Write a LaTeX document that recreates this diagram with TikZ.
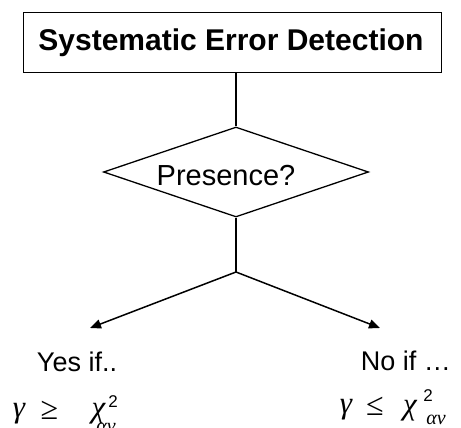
\documentclass[tikz,border=0pt]{standalone}
\usepackage{fontspec}
\setmainfont{Liberation Sans}
\newfontfamily\grkfont{Liberation Serif}
\usetikzlibrary{shapes.geometric,arrows.meta}
\tikzset{
  titlebox/.style={draw, line width=1pt, minimum width=418pt, minimum height=60pt, inner sep=0pt},
  decision/.style={draw, diamond, line width=1.3pt, minimum width=265pt, minimum height=90pt, inner sep=0pt},
  lbl/.style={inner sep=0pt, font=\fontsize{27}{30}\selectfont},
  mth/.style={inner sep=0pt, font=\fontsize{31}{33}\selectfont\grkfont\itshape},
  rel/.style={inner sep=0pt, font=\fontsize{32}{34}\selectfont\grkfont},
  sup/.style={inner sep=0pt, font=\fontsize{17}{18}\selectfont},
  idx/.style={inner sep=0pt, font=\fontsize{20}{21}\selectfont\grkfont\itshape},
  link/.style={line width=1.5pt},
  arrowlink/.style={line width=1.5pt, -{Triangle[length=11pt,width=9pt]}}
}
\begin{document}
\begin{tikzpicture}[x=1pt,y=-1pt]
\useasboundingbox (0,0) rectangle (461,428);

% title box
\node[titlebox] (title) at (232,43) {};
\node[inner sep=0pt, font=\fontsize{30}{32}\selectfont\bfseries] (titletext) at (231,42.5) {Systematic Error Detection};

% decision diamond
\node[decision] (dia) at (236,172) {};
\node[inner sep=0pt, font=\fontsize{29}{32}\selectfont] (diatext) at (226,176) {Presence?};

% connectors
\draw[link] (dia.north) -- (dia.north |- title.south);
\coordinate (split) at (236,272);
\coordinate (yestip) at (90,328);
\coordinate (notip) at (380,328);
\draw[link] (dia.south) -- (split);
\draw[arrowlink] (split) -- (yestip);
\draw[arrowlink] (split) -- (notip);

% outcome labels
\node[lbl] (yes) at (77,362) {Yes if..};
\node[lbl] (no) at (406,360.5) {No if \dots};

% left condition
\node[mth] (lg) at (19,413.5) {γ};
\node[rel] (lge) at (49.5,410.5) {≥};
\node[mth] (lchi) at (98.5,414) {χ};
\node[sup] (lsup) at (113,401.5) {2};
\node[idx] (lsub) at (106,428) {αν};

% right condition
\node[mth] (rg) at (346,410) {γ};
\node[rel] (rle) at (375,406.5) {≤};
\node[mth] (rchi) at (410,411) {χ};
\node[sup] (rsup) at (428,395.5) {2};
\node[idx] (rsub) at (436,419.5) {αν};
\end{tikzpicture}
\end{document}
